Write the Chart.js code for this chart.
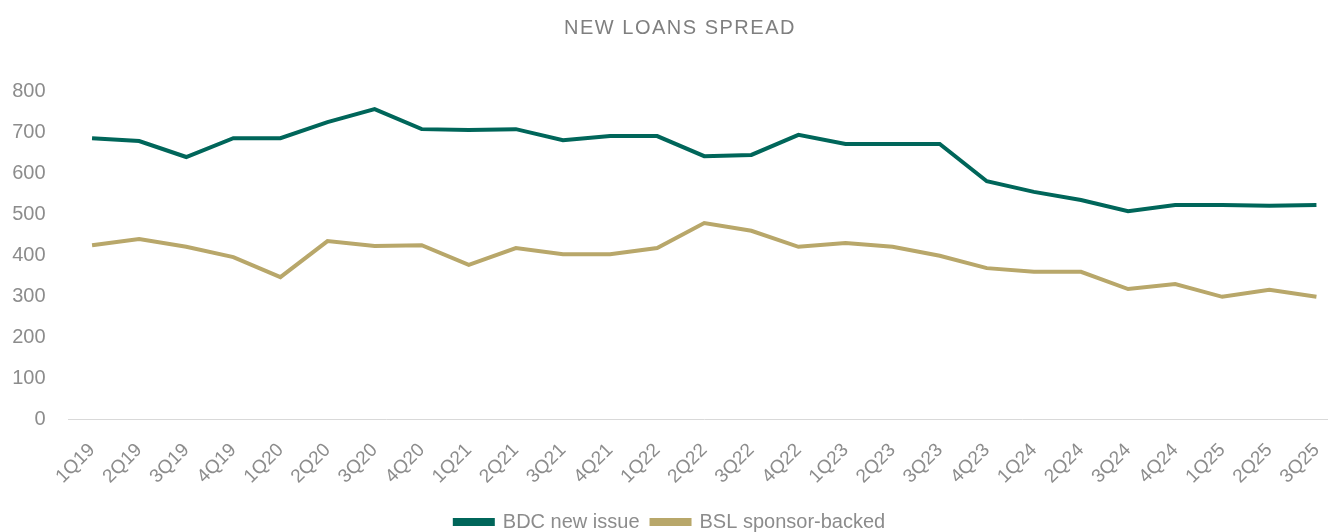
<!DOCTYPE html>
<html>
<head>
<meta charset="utf-8">
<script src="https://cdn.jsdelivr.net/npm/chart.js@4/dist/chart.umd.min.js"></script>
<style>
  html, body { margin: 0; padding: 0; background: #fff; overflow: hidden; }
  #wrap { width: 1360px; height: 542px; }
</style>
</head>
<body>
<div id="wrap"><canvas id="chart" width="1360" height="542"></canvas></div>
<script>
const chartTitle = 'NEW LOANS SPREAD';

const quarters = ['1Q19', '2Q19', '3Q19', '4Q19', '1Q20', '2Q20', '3Q20', '4Q20', '1Q21', '2Q21',
    '3Q21', '4Q21', '1Q22', '2Q22', '3Q22', '4Q22', '1Q23', '2Q23', '3Q23', '4Q23',
    '1Q24', '2Q24', '3Q24', '4Q24', '1Q25', '2Q25', '3Q25'];

const bdcNewIssue = [685, 678, 639, 685, 685, 724, 756, 707, 705, 707,
    680, 690, 690, 641, 644, 693, 671, 671, 671, 580,
    554, 534, 507, 522, 522, 520, 522];

const bslSponsorBacked = [424, 439, 420, 395, 346, 434, 422, 424, 376, 417,
    402, 402, 417, 478, 459, 420, 429, 420, 398, 368,
    359, 359, 317, 329, 298, 315, 298];

const yTicks = [0, 100, 200, 300, 400, 500, 600, 700, 800];

const textColor = '#8c8c8c';
const fontFamily = '"Liberation Sans", Arial, sans-serif';

// title drawn by hand so it can have the wide letter spacing of the original
const spacedTitle = {
    id: 'spacedTitle',
    afterDraw(chart) {
        const ctx = chart.ctx;
        ctx.save();
        ctx.font = '20px ' + fontFamily;
        ctx.fillStyle = '#7f7f7f';
        ctx.letterSpacing = '1.5px';
        ctx.textAlign = 'center';
        ctx.textBaseline = 'middle';
        ctx.fillText(chartTitle, chart.width / 2, 28);
        ctx.restore();
    }
};

new Chart(document.getElementById('chart'), {
    type: 'line',
    data: {
        labels: quarters,
        datasets: [{
            label: 'BDC new issue',
            data: bdcNewIssue,
            borderColor: '#00665a',
            backgroundColor: '#00665a',
            borderWidth: 4,
            pointRadius: 0,
            tension: 0
        }, {
            label: 'BSL sponsor-backed',
            data: bslSponsorBacked,
            borderColor: '#b8a76a',
            backgroundColor: '#b8a76a',
            borderWidth: 4,
            pointRadius: 0,
            tension: 0
        }]
    },
    options: {
        responsive: false,
        animation: false,
        layout: {
            padding: { left: 0, right: 20, top: 91, bottom: 0 }
        },
        plugins: {
            title: { display: false },
            legend: {
                position: 'bottom',
                labels: {
                    color: textColor,
                    font: { family: fontFamily, size: 20 },
                    boxWidth: 38,
                    boxHeight: 4,
                    padding: 12
                }
            },
            tooltip: { enabled: false }
        },
        scales: {
            x: {
                offset: true,
                grid: { display: false, drawTicks: false },
                border: { display: true, color: '#d9d9d9', width: 1 },
                ticks: {
                    color: textColor,
                    font: { family: fontFamily, size: 19 },
                    autoSkip: false,
                    minRotation: 45,
                    maxRotation: 45,
                    padding: 20
                },
                afterFit: scale => { scale.height = 81; }
            },
            y: {
                min: 0,
                max: 800,
                afterBuildTicks: scale => { scale.ticks = yTicks.map(v => ({ value: v })); },
                grid: { display: false, drawTicks: false },
                border: { display: false },
                ticks: {
                    color: textColor,
                    font: { family: fontFamily, size: 20 },
                    padding: 23
                },
                afterFit: scale => { scale.width = 68.5; }
            }
        }
    },
    plugins: [spacedTitle]
});
</script>
</body>
</html>
